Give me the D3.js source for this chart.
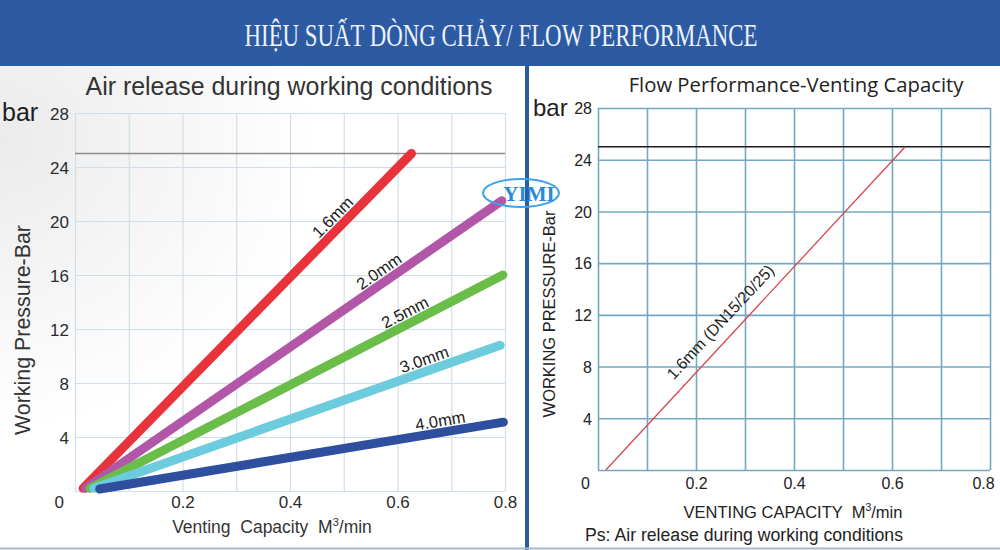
<!DOCTYPE html>
<html>
<head>
<meta charset="utf-8">
<script src="https://cdn.jsdelivr.net/npm/d3@7"></script>
<style>
  html, body { margin: 0; padding: 0; background: #ffffff; }
  svg { display: block; }
  text { font-family: "Liberation Sans", Arial, sans-serif; }
</style>
</head>
<body>
<script>
// ---------------- DATA ----------------
const headerTitle = "HIỆU SUẤT DÒNG CHẢY/ FLOW PERFORMANCE";

// Left chart: Air release during working conditions
const leftTitle = "Air release during working conditions";
const leftSeries = ["1.6mm", "2.0mm", "2.5mm", "3.0mm", "4.0mm"];
const leftXStart = [0.015, 0.020, 0.028, 0.035, 0.046];
const leftYStart = [0.2, 0.2, 0.2, 0.2, 0.15];
const leftXEnd = [0.626, 0.794, 0.796, 0.791, 0.797];
const leftYEnd = [25.0, 21.5, 16.0, 10.8, 5.1];
const leftLabelAt = [0.495, 0.578, 0.624, 0.657, 0.683]; // x position of label along each line
const leftYTicks = [4, 8, 12, 16, 20, 24, 28];
const leftXTicks = [0.2, 0.4, 0.6, 0.8];
const gridX = [0, 0.1, 0.2, 0.3, 0.4, 0.5, 0.6, 0.7, 0.8];
const gridY = [0, 4, 8, 12, 16, 20, 24, 28];
const ratedPressure = 25;
const leftXLabel = ["Venting  Capacity  M", "3", "/min"];
const leftYLabel = "Working Pressure-Bar";

// Right chart: Flow Performance-Venting Capacity
const rightTitle = "Flow Performance-Venting Capacity";
const rightSeries = "1.6mm (DN15/20/25)";
const rightX = [0.016, 0.627];
const rightY = [0, 25];
const rightLabelAt = 0.2745;
const rightYTicks = [4, 8, 12, 16, 20, 24, 28];
const rightXTicks = [0.2, 0.4, 0.6, 0.8];
const rightXLabel = ["VENTING CAPACITY  M", "3", "/min"];
const rightNote = "Ps: Air release during working conditions";
const rightYLabel = "WORKING PRESSURE-Bar";
const unitLabel = "bar";
const logoText = "YIMI";

// ---------------- STYLE ----------------
const leftColors = ["#e8333b", "#b257a8", "#69bd48", "#6ccbdc", "#2d4f9e"];
const headerBlue = "#2c5aa3";

const W = 1000, H = 550;
const svg = d3.select("body").append("svg").attr("width", W).attr("height", H);

// background
const defs = svg.append("defs");
const rg = defs.append("radialGradient").attr("id", "bgL")
  .attr("cx", "0").attr("cy", "0.15").attr("r", "0.6");
rg.append("stop").attr("offset", "0").attr("stop-color", "#ebebeb");
rg.append("stop").attr("offset", "1").attr("stop-color", "#ffffff");
svg.append("rect").attr("x", 0).attr("y", 66).attr("width", 526).attr("height", H - 66).attr("fill", "url(#bgL)");
svg.append("rect").attr("x", 526).attr("y", 66).attr("width", W - 526).attr("height", H - 66).attr("fill", "#ffffff");

// header band
svg.append("rect").attr("x", 0).attr("y", 0).attr("width", W).attr("height", 66).attr("fill", headerBlue);
svg.append("text").attr("x", 501).attr("y", 46)
  .attr("text-anchor", "middle")
  .style("font-family", "'Liberation Serif', 'DejaVu Serif', serif")
  .style("font-size", "31px")
  .attr("fill", "#eef3fb")
  .attr("textLength", 513).attr("lengthAdjust", "spacingAndGlyphs")
  .text(headerTitle);

// helper to fit text width by font size
function fit(sel, target) {
  const n = sel.node();
  const len = n.getComputedTextLength();
  const fs = parseFloat(sel.style("font-size"));
  sel.style("font-size", (fs * target / len).toFixed(2) + "px");
}

// ================= LEFT CHART =================
const xL = d3.scaleLinear().domain([0, 0.8]).range([75, 505]);
const yL = d3.scaleLinear().domain([0, 28]).range([491, 113]);

const gL = svg.append("g");
// grid
gL.append("g").attr("transform", `translate(0,${yL(0)})`)
  .call(d3.axisBottom(xL).tickValues(gridX).tickSize(-(yL(0) - yL(28))).tickFormat(""))
  .call(g => g.select(".domain").remove())
  .call(g => g.selectAll("line").attr("stroke", "#cfdfe9").attr("stroke-width", 1.2));
gL.append("g").attr("transform", `translate(${xL(0)},0)`)
  .call(d3.axisLeft(yL).tickValues(gridY).tickSize(-(xL(0.8) - xL(0))).tickFormat(""))
  .call(g => g.select(".domain").remove())
  .call(g => g.selectAll("line").attr("stroke", "#cfdfe9").attr("stroke-width", 1.2));
// rated line
gL.append("line").attr("x1", xL(0)).attr("x2", xL(0.8))
  .attr("y1", yL(ratedPressure)).attr("y2", yL(ratedPressure))
  .attr("stroke", "#8c8c8c").attr("stroke-width", 1.3);

// tick labels
gL.append("g").attr("transform", `translate(69,0)`)
  .call(d3.axisLeft(yL).tickValues(leftYTicks).tickSize(0).tickPadding(0).tickFormat(d3.format("d")))
  .call(g => g.select(".domain").remove())
  .call(g => g.selectAll("text").attr("fill", "#2b2b2b").style("font-size", "17px")
    .style("font-family", "'Liberation Sans', Arial, sans-serif").attr("dy", "0.36em"));
gL.append("g").attr("transform", `translate(0,502)`)
  .call(d3.axisBottom(xL).tickValues(leftXTicks).tickSize(0).tickPadding(0).tickFormat(d3.format(".1f")))
  .call(g => g.select(".domain").remove())
  .call(g => g.selectAll("text").attr("fill", "#2b2b2b").style("font-size", "17px")
    .style("font-family", "'Liberation Sans', Arial, sans-serif").attr("dy", "0.36em"));
gL.append("text").attr("x", 64).attr("y", 502).attr("dy", "0.36em").attr("text-anchor", "end")
  .attr("fill", "#2b2b2b").style("font-size", "17px").text("0");
gL.append("text").attr("x", 2).attr("y", 121).attr("fill", "#1e1e1e").style("font-size", "25px").text(unitLabel);

// series
const lineGen = d3.line().x(d => d[0]).y(d => d[1]);
leftSeries.forEach((name, i) => {
  const pts = [[xL(leftXStart[i]), yL(leftYStart[i])], [xL(leftXEnd[i]), yL(leftYEnd[i])]];
  gL.append("path").attr("d", lineGen(pts)).attr("fill", "none")
    .attr("stroke", leftColors[i]).attr("stroke-width", 9).attr("stroke-linecap", "round");
});
leftSeries.forEach((name, i) => {
  const x0 = xL(leftXStart[i]), y0 = yL(leftYStart[i]);
  const x1 = xL(leftXEnd[i]), y1 = yL(leftYEnd[i]);
  const ang = Math.atan2(y1 - y0, x1 - x0) * 180 / Math.PI;
  const t = (leftLabelAt[i] - leftXStart[i]) / (leftXEnd[i] - leftXStart[i]);
  const px = x0 + (x1 - x0) * t, py = y0 + (y1 - y0) * t;
  gL.append("text")
    .attr("transform", `translate(${px},${py}) rotate(${ang})`)
    .attr("x", 0).attr("y", -6)
    .attr("text-anchor", "middle")
    .attr("fill", "#1a1a1a").style("font-size", "16.5px")
    .text(name);
});

// titles / axis labels
const tL = gL.append("text").attr("x", 289).attr("y", 95).attr("text-anchor", "middle")
  .attr("fill", "#333").style("font-size", "22px").text(leftTitle);
fit(tL, 407);
const xlL = gL.append("text").attr("x", 272).attr("y", 533).attr("text-anchor", "middle")
  .attr("fill", "#333").style("font-size", "17.5px").attr("xml:space", "preserve");
xlL.append("tspan").text(leftXLabel[0]);
xlL.append("tspan").attr("dy", -7).style("font-size", "11px").text(leftXLabel[1]);
xlL.append("tspan").attr("dy", 7).text(leftXLabel[2]);
const ylL = gL.append("text").attr("transform", `translate(30,330) rotate(-90)`).attr("text-anchor", "middle")
  .attr("fill", "#333").style("font-size", "16px").text(leftYLabel);
fit(ylL, 210);

// ================= RIGHT CHART =================
const xR = d3.scaleLinear().domain([0, 0.8]).range([598, 990]);
const yR = d3.scaleLinear().domain([0, 28]).range([470, 108]);
const gR = svg.append("g");
gR.append("g").attr("transform", `translate(0,${yR(0)})`)
  .call(d3.axisBottom(xR).tickValues(gridX).tickSize(-(yR(0) - yR(28))).tickFormat(""))
  .call(g => g.select(".domain").remove())
  .call(g => g.selectAll("line").attr("stroke", "#72a9c2").attr("stroke-width", 1.6));
gR.append("g").attr("transform", `translate(${xR(0)},0)`)
  .call(d3.axisLeft(yR).tickValues(gridY).tickSize(-(xR(0.8) - xR(0))).tickFormat(""))
  .call(g => g.select(".domain").remove())
  .call(g => g.selectAll("line").attr("stroke", "#72a9c2").attr("stroke-width", 1.6));
gR.append("line").attr("x1", xR(0)).attr("x2", xR(0.8))
  .attr("y1", yR(ratedPressure)).attr("y2", yR(ratedPressure))
  .attr("stroke", "#1a1a1a").attr("stroke-width", 1.5);

gR.append("g").attr("transform", `translate(592,0)`)
  .call(d3.axisLeft(yR).tickValues(rightYTicks).tickSize(0).tickPadding(0).tickFormat(d3.format("d")))
  .call(g => g.select(".domain").remove())
  .call(g => g.selectAll("text").attr("fill", "#222").style("font-size", "16px")
    .style("font-family", "'Liberation Sans', Arial, sans-serif").attr("dy", "0.36em"));
gR.append("g").attr("transform", `translate(0,483)`)
  .call(d3.axisBottom(xR).tickValues(rightXTicks).tickSize(0).tickPadding(0).tickFormat(d3.format(".1f")))
  .call(g => g.select(".domain").remove())
  .call(g => g.selectAll("text").attr("fill", "#222").style("font-size", "16px")
    .style("font-family", "'Liberation Sans', Arial, sans-serif").attr("dy", "0.36em")
    .attr("dx", (d, i, n) => i === n.length - 1 ? -7 : 0));
gR.append("text").attr("x", 590).attr("y", 483).attr("dy", "0.36em").attr("text-anchor", "end")
  .attr("fill", "#222").style("font-size", "16px").text("0");
gR.append("text").attr("x", 533).attr("y", 116).attr("fill", "#1e1e1e").style("font-size", "24px").text(unitLabel);

// series
{
  const x0 = xR(rightX[0]), y0 = yR(rightY[0]), x1 = xR(rightX[1]), y1 = yR(rightY[1]);
  gR.append("path").attr("d", lineGen([[x0, y0], [x1, y1]])).attr("fill", "none")
    .attr("stroke", "#d2494f").attr("stroke-width", 1.3);
  const ang = Math.atan2(y1 - y0, x1 - x0) * 180 / Math.PI;
  const t = (rightLabelAt - rightX[0]) / (rightX[1] - rightX[0]);
  const px = x0 + (x1 - x0) * t, py = y0 + (y1 - y0) * t;
  gR.append("text").attr("transform", `translate(${px},${py}) rotate(${ang})`)
    .attr("y", -11).attr("text-anchor", "middle").attr("fill", "#1f1f1f")
    .style("font-size", "16px").text(rightSeries);
}

const tR = gR.append("text").attr("x", 796).attr("y", 92).attr("text-anchor", "middle")
  .attr("fill", "#222").style("font-family", "'Open Sans', 'Noto Sans', sans-serif")
  .style("font-size", "19px").text(rightTitle);
fit(tR, 335);
const xlR = gR.append("text").attr("x", 793).attr("y", 518).attr("text-anchor", "middle")
  .attr("fill", "#222").style("font-size", "16.5px").attr("xml:space", "preserve");
xlR.append("tspan").text(rightXLabel[0]);
xlR.append("tspan").attr("dy", -7).style("font-size", "10.5px").text(rightXLabel[1]);
xlR.append("tspan").attr("dy", 7).text(rightXLabel[2]);
const nR = gR.append("text").attr("x", 744).attr("y", 541).attr("text-anchor", "middle")
  .attr("fill", "#222").style("font-size", "16px").text(rightNote);
fit(nR, 318);
const ylR = gR.append("text").attr("transform", `translate(555,314) rotate(-90)`).attr("text-anchor", "middle")
  .attr("fill", "#222").style("font-size", "15.5px").text(rightYLabel);
fit(ylR, 207);

// divider & frame
svg.append("rect").attr("x", 525).attr("y", 66).attr("width", 4).attr("height", H - 66).attr("fill", headerBlue);
svg.append("line").attr("x1", 0).attr("x2", W).attr("y1", 548.5).attr("y2", 548.5)
  .attr("stroke", "#a9b9cc").attr("stroke-width", 2);

// logo
svg.append("ellipse").attr("cx", 521).attr("cy", 193).attr("rx", 38).attr("ry", 14)
  .attr("fill", "none").attr("stroke", "#3da2e6").attr("stroke-width", 2);
svg.append("text").attr("x", 529).attr("y", 201).attr("text-anchor", "middle")
  .style("font-family", "'Liberation Serif', 'DejaVu Serif', serif").style("font-weight", "bold")
  .style("font-size", "21px").attr("fill", "#2b8ad8").text(logoText);
</script>
</body>
</html>
